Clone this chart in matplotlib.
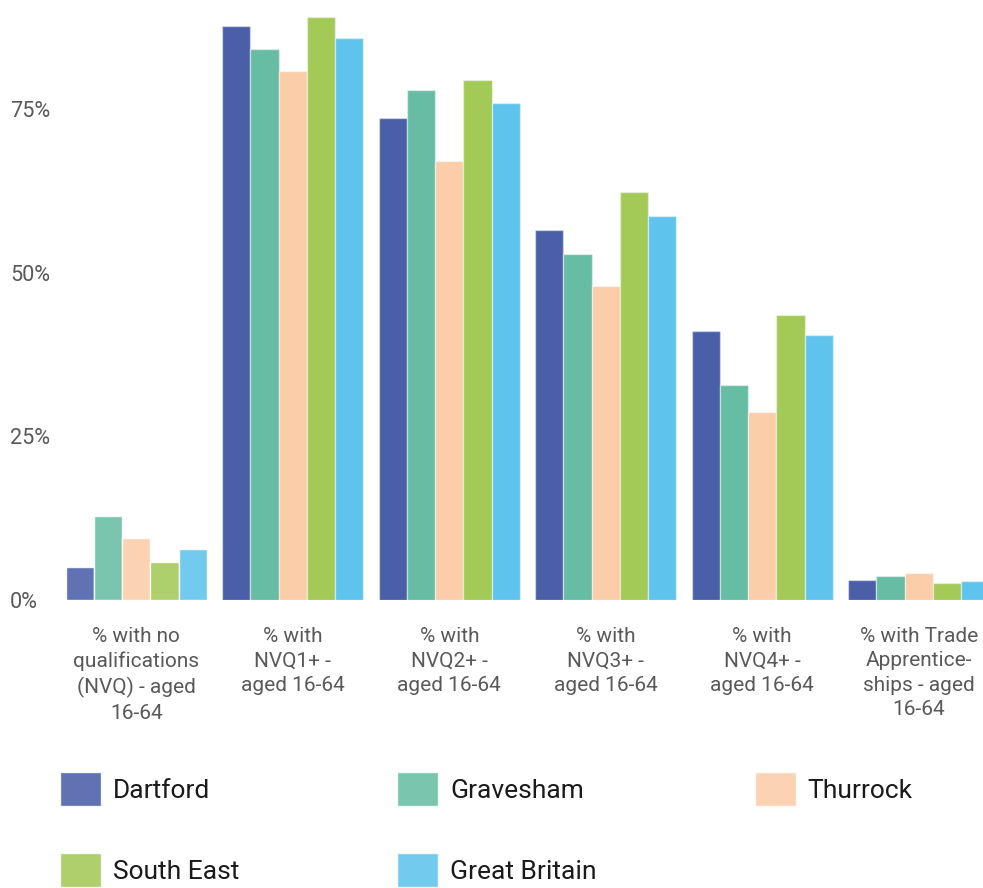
import numpy as np
import matplotlib.pyplot as plt
from matplotlib.patches import Patch

# Qualification levels, share of population aged 16-64 (%)
categories = [
    "% with no\nqualifications\n(NVQ) - aged\n16-64",
    "% with\nNVQ1+ -\naged 16-64",
    "% with\nNVQ2+ -\naged 16-64",
    "% with\nNVQ3+ -\naged 16-64",
    "% with\nNVQ4+ -\naged 16-64",
    "% with Trade\nApprentice-\nships - aged\n16-64",
]
areas = ["Dartford", "Gravesham", "Thurrock", "South East", "Great Britain"]
dartford = [5.0, 87.7, 73.6, 56.5, 41.1, 3.1]
gravesham = [12.8, 84.2, 77.9, 52.8, 32.8, 3.7]
thurrock = [9.5, 80.8, 67.1, 48.0, 28.7, 4.1]
south_east = [5.8, 89.0, 79.4, 62.3, 43.5, 2.6]
great_britain = [7.8, 85.8, 75.9, 58.7, 40.5, 2.9]
yticks = [0, 25, 50, 75]

series = [dartford, gravesham, thurrock, south_east, great_britain]
colors = ["#4B5EA8", "#66BDA3", "#FBCDA8", "#A3C956", "#5FC4ED"]

plt.rcParams['font.family'] = ['Roboto', 'DejaVu Sans']

W, H = 983, 888
fig = plt.figure(figsize=(W / 100, H / 100), dpi=100)
# plot area runs past the right edge, so the last group is cut off
ax = fig.add_axes([58 / W, (H - 600) / H, 939 / W, 600 / H])

x = np.arange(len(categories))
bw = 0.18
for i, (vals, c) in enumerate(zip(series, colors)):
    bars = ax.bar(x + (i - 2) * bw, vals, bw, color=c,
                  edgecolor=(1, 1, 1, 0.45), linewidth=1)
    bars[0].set_alpha(0.88)

ax.set_xlim(-0.5, len(categories) - 0.5)
ax.set_ylim(0, 600 / 6.547)
ax.set_yticks(yticks)
ax.set_yticklabels([f"{v}%" for v in yticks])
ax.set_xticks(x)
ax.set_xticklabels(categories, linespacing=1.36)
for s in ax.spines.values():
    s.set_visible(False)
ax.tick_params(axis='both', length=0, labelcolor="#595959")
ax.tick_params(axis='x', pad=19.5, labelsize=15)
ax.tick_params(axis='y', pad=34.5, labelsize=15.6)
for lbl in ax.get_yticklabels():
    lbl.set_horizontalalignment('left')

# legend filled row by row: reorder for column-major layout
handles = [Patch(facecolor=c, edgecolor=(1, 1, 1, 0.5), alpha=0.88) for c in colors]
order = [0, 3, 1, 4, 2]
fig.legend([handles[k] for k in order], [areas[k] for k in order],
           loc='upper left', bbox_to_anchor=(60 / W, 1 - 772 / H),
           ncol=3, frameon=False, fontsize=19, borderpad=0, borderaxespad=0,
           handlelength=1.55, handleheight=1.59, handletextpad=0.45,
           columnspacing=6.0, labelspacing=1.8, labelcolor="#1a1a1a")

fig.savefig("out.png", dpi=100)
